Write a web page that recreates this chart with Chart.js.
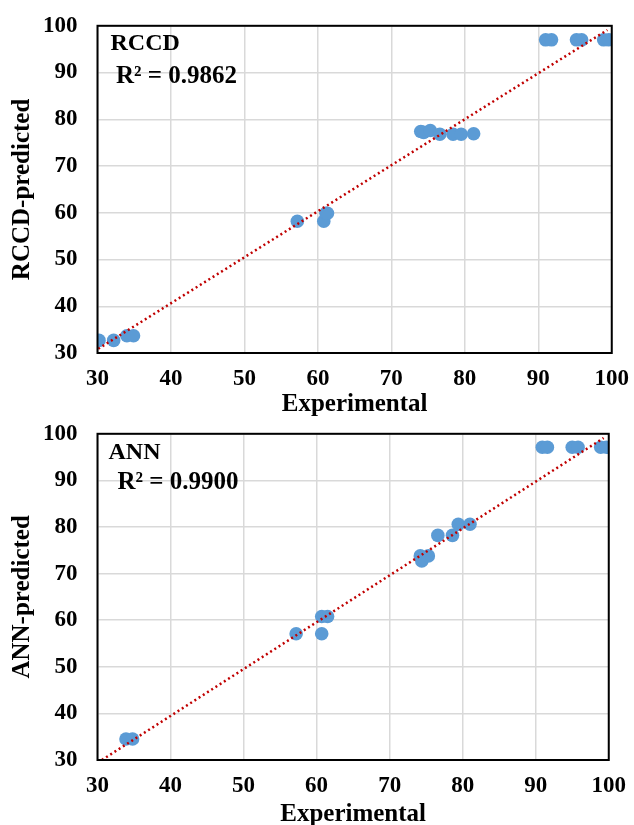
<!DOCTYPE html>
<html>
<head>
<meta charset="utf-8">
<script src="https://cdn.jsdelivr.net/npm/chart.js@4/dist/chart.umd.min.js"></script>
<style>
    html, body { margin: 0; padding: 0; background: #fff; overflow: hidden; width: 634px; height: 825px; }
    #wrapTop { position: absolute; left: 0; top: -8px; width: 641px; height: 428px; }
    #wrapBottom { position: absolute; left: 0; top: 400px; width: 638px; height: 430px; }
</style>
</head>
<body>
<div id="wrapTop"><canvas id="rccdChart"></canvas></div>
<div id="wrapBottom"><canvas id="annChart"></canvas></div>
<script>
// RCCD model: experimental vs predicted
const rccdExperimental = [30.2, 32.2, 34.0, 34.9, 57.2, 60.8, 61.1, 61.3, 74.0, 74.4, 75.3, 76.6, 78.4, 79.5, 81.2, 91.0, 91.8, 95.2, 95.9, 98.9, 99.6];
const rccdPredicted    = [32.7, 32.7, 33.7, 33.7, 58.2, 58.2, 59.9, 59.9, 77.4, 77.2, 77.6, 76.8, 76.8, 76.8, 76.9, 97.0, 97.0, 97.0, 97.0, 97.0, 97.0];
const rccdTrendX = [30.1, 99.4];
const rccdTrendY = [30.9, 99.1];

// ANN model: experimental vs predicted
const annExperimental = [33.9, 34.8, 57.2, 60.7, 60.7, 61.5, 74.2, 74.4, 75.3, 76.6, 78.6, 79.4, 81.0, 90.9, 91.6, 95.0, 95.8, 98.9, 99.7];
const annPredicted    = [34.5, 34.5, 57.1, 57.1, 60.8, 60.8, 73.8, 72.7, 73.8, 78.2, 78.2, 80.6, 80.6, 97.1, 97.1, 97.1, 97.1, 97.1, 97.1];
const annTrendX = [30.6, 99.3];
const annTrendY = [30.0, 99.1];

const axisMin = 30;
const axisMax = 100;
const tickStep = 10;

const serif = '"Liberation Serif", "Times New Roman", serif';

const toPoints = (xs, ys) => xs.map((x, i) => ({ x: x, y: ys[i] }));

// Frame around plot area + model label / R² text
const framePlugin = {
    id: 'frame',
    afterDraw(chart, args, opts) {
        const { ctx, chartArea } = chart;
        ctx.save();
        ctx.strokeStyle = '#000';
        ctx.lineWidth = 2;
        ctx.strokeRect(chartArea.left, chartArea.top, chartArea.right - chartArea.left, chartArea.bottom - chartArea.top);
        ctx.fillStyle = '#000';
        ctx.textBaseline = 'middle';
        ctx.font = 'bold 24px ' + serif;
        ctx.fillText(opts.name, chartArea.left + opts.nameDx, chartArea.top + opts.nameDy);
        ctx.font = 'bold 25px ' + serif;
        ctx.fillText(opts.r2, chartArea.left + opts.r2Dx, chartArea.top + opts.r2Dy);
        ctx.restore();
    }
};

function makeChart(canvasId, xs, ys, tx, ty, yTitle, labelOpts, xAxisHeight) {
    const ctx = document.getElementById(canvasId)?.getContext('2d');
    if (!ctx) {
        console.error('Chart element not found');
        return null;
    }
    return new Chart(ctx, {
        type: 'scatter',
        data: {
            datasets: [
                {
                    label: 'data',
                    data: toPoints(xs, ys),
                    backgroundColor: 'rgba(91, 155, 213, 1)',
                    borderColor: 'rgba(91, 155, 213, 1)',
                    borderWidth: 0,
                    pointRadius: 6.8,
                    order: 1
                },
                {
                    label: 'trend',
                    data: toPoints(tx, ty),
                    showLine: true,
                    borderColor: '#C00000',
                    borderWidth: 2.5,
                    borderDash: [2, 3],
                    pointRadius: 0,
                    fill: false,
                    order: 0
                }
            ]
        },
        options: {
            responsive: true,
            maintainAspectRatio: false,
            animation: false,
            layout: { padding: 0 },
            plugins: {
                legend: { display: false },
                tooltip: { enabled: false },
                frame: labelOpts
            },
            scales: {
                x: {
                    min: axisMin,
                    max: axisMax,
                    afterFit: s => { s.height = xAxisHeight; },
                    ticks: {
                        stepSize: tickStep,
                        padding: 12,
                        color: '#000',
                        font: { family: serif, size: 23, weight: 'bold' }
                    },
                    grid: { color: '#D9D9D9', lineWidth: 1.5, drawTicks: false },
                    border: { display: false },
                    title: {
                        display: true,
                        text: 'Experimental',
                        color: '#000',
                        font: { family: serif, size: 25, weight: 'bold', lineHeight: 1 },
                        padding: { top: 0, bottom: 2.5 }
                    }
                },
                y: {
                    min: axisMin,
                    max: axisMax,
                    afterFit: s => { s.width = 97.5; },
                    ticks: {
                        stepSize: tickStep,
                        padding: 20,
                        color: '#000',
                        font: { family: serif, size: 23, weight: 'bold' }
                    },
                    grid: { color: '#D9D9D9', lineWidth: 1.5, drawTicks: false },
                    border: { display: false },
                    title: {
                        display: true,
                        text: yTitle,
                        color: '#000',
                        font: { family: serif, size: 25, weight: 'bold', lineHeight: 1 },
                        padding: { top: 10.5, bottom: 0 }
                    }
                }
            }
        },
        plugins: [framePlugin]
    });
}

makeChart('rccdChart', rccdExperimental, rccdPredicted, rccdTrendX, rccdTrendY, 'RCCD-predicted',
    { name: 'RCCD', r2: 'R² = 0.9862', nameDx: 13, nameDy: 18, r2Dx: 18.5, r2Dy: 51 }, 67);

makeChart('annChart', annExperimental, annPredicted, annTrendX, annTrendY, 'ANN-predicted',
    { name: 'ANN', r2: 'R² = 0.9900', nameDx: 11, nameDy: 19, r2Dx: 20, r2Dy: 49 }, 70);
</script>
</body>
</html>
